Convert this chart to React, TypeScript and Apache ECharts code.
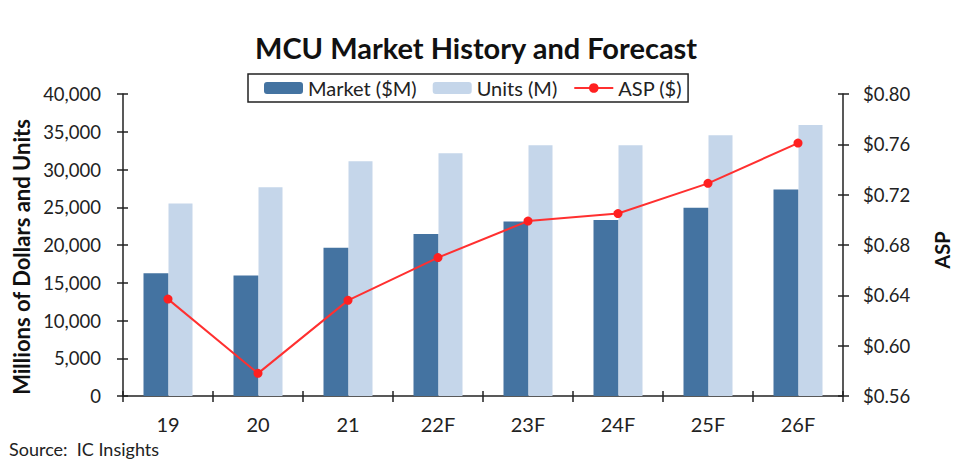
import React, { useEffect, useRef } from "react";
import * as echarts from "echarts";

const categories = ["19", "20", "21", "22F", "23F", "24F", "25F", "26F"];
const marketValues = [16250, 15950, 19650, 21450, 23100, 23300, 24950, 27350];
const unitValues = [25500, 27650, 31100, 32150, 33200, 33200, 34550, 35900];
const aspValues = [0.637, 0.578, 0.636, 0.670, 0.699, 0.705, 0.729, 0.761];

const FONT = "Lato, 'Open Sans', sans-serif";

export default function App() {
  const ref = useRef<HTMLDivElement>(null);
  useEffect(() => {
    if (!ref.current) return;
    const chart = echarts.init(ref.current, undefined, { renderer: "svg" });
    const axisLine = { show: true, lineStyle: { color: "#222", width: 1.5 } };
    chart.setOption({
      animation: false,
      backgroundColor: "#fff",
      textStyle: { fontFamily: FONT },
      title: {
        text: "MCU Market History and Forecast",
        left: 250,
        top: 28,
        textStyle: { fontFamily: FONT, fontWeight: "bold", fontSize: 29, color: "#111" },
      },
      legend: {
        left: 248,
        top: 74,
        padding: [4, 6, 4, 16],
        itemGap: 16,
        itemWidth: 39,
        itemHeight: 12,
        borderColor: "#222",
        borderWidth: 1.5,
        backgroundColor: "#fff",
        textStyle: { fontFamily: FONT, fontSize: 20, color: "#222" },
        data: ["Market ($M)", "Units (M)", "ASP ($)"],
      },
      grid: { left: 123, right: 123, top: 94, bottom: 72 },
      xAxis: [
        {
          type: "category",
          data: categories,
          axisLine,
          axisTick: { show: true, length: 6, lineStyle: { color: "#222", width: 1.5 } },
          axisLabel: { fontFamily: FONT, fontSize: 20, color: "#222", margin: 18 },
        },
        {
          type: "category",
          data: categories,
          position: "bottom",
          axisLine: { show: false },
          axisTick: { show: true, inside: true, length: 5, lineStyle: { color: "#222", width: 1.5 } },
          axisLabel: { show: false },
        },
      ],
      yAxis: [
        {
          type: "value",
          min: 0,
          max: 40000,
          interval: 5000,
          position: "left",
          name: "Millions of Dollars and Units",
          nameLocation: "middle",
          nameGap: 81,
          nameTextStyle: {
            fontFamily: FONT,
            fontWeight: "bold",
            fontSize: 22,
            color: "#111",
            padding: [0, 24, 0, 0],
          },
          axisLine,
          axisTick: { show: true, length: 6, lineStyle: { color: "#222", width: 1.5 } },
          splitLine: { show: false },
          axisLabel: {
            fontFamily: FONT,
            fontSize: 18.5,
            color: "#222",
            margin: 22,
            formatter: (v: number) => v.toLocaleString("en-US"),
          },
        },
        {
          type: "value",
          min: 0.56,
          max: 0.8,
          interval: 0.04,
          position: "right",
          name: "ASP",
          nameLocation: "middle",
          nameGap: 89,
          nameRotate: 90,
          nameTextStyle: {
            fontFamily: FONT,
            fontWeight: "bold",
            fontSize: 20,
            color: "#111",
            padding: [0, 10, 0, 0],
          },
          axisLine,
          axisTick: { show: true, length: 6, lineStyle: { color: "#222", width: 1.5 } },
          splitLine: { show: false },
          axisLabel: {
            fontFamily: FONT,
            fontSize: 18.5,
            color: "#222",
            margin: 20,
            formatter: (v: number) => "$" + v.toFixed(2),
          },
        },
        {
          type: "value",
          min: 0,
          max: 40000,
          interval: 5000,
          position: "left",
          axisLine: { show: false },
          axisTick: { show: true, inside: true, length: 5, lineStyle: { color: "#222", width: 1.5 } },
          axisLabel: { show: false },
          splitLine: { show: false },
        },
        {
          type: "value",
          min: 0.56,
          max: 0.8,
          interval: 0.04,
          position: "right",
          axisLine: { show: false },
          axisTick: { show: true, inside: true, length: 5, lineStyle: { color: "#222", width: 1.5 } },
          axisLabel: { show: false },
          splitLine: { show: false },
        },
      ],
      series: [
        {
          name: "Market ($M)",
          type: "bar",
          data: marketValues,
          yAxisIndex: 0,
          barWidth: 25,
          barGap: "0%",
          itemStyle: { color: "#4473a1" },
        },
        {
          name: "Units (M)",
          type: "bar",
          data: unitValues,
          yAxisIndex: 0,
          barWidth: 24,
          barGap: "0%",
          itemStyle: { color: "#c5d6ea" },
        },
        {
          name: "ASP ($)",
          type: "line",
          data: aspValues,
          yAxisIndex: 1,
          symbol: "circle",
          symbolSize: 9,
          lineStyle: { color: "#ff3030", width: 2 },
          itemStyle: { color: "#ff2020" },
          z: 5,
        },
      ],
      graphic: [
        {
          type: "text",
          left: 9,
          top: 440,
          style: { text: "Source:  IC Insights", fontFamily: FONT, fontSize: 18, fill: "#222" },
        },
      ],
    });
    return () => chart.dispose();
  }, []);
  return (
    <div
      ref={ref}
      style={{ position: "absolute", left: 0, top: 0, width: 966, height: 468 }}
    />
  );
}
